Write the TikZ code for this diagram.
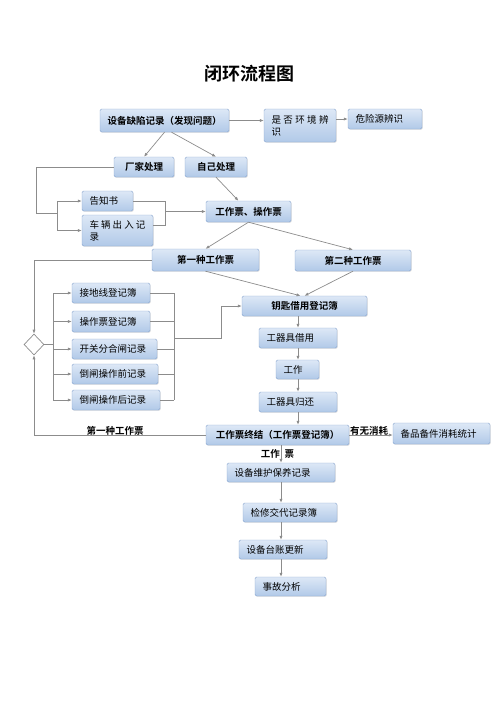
\documentclass[tikz,border=0pt]{standalone}
\usepackage{fontspec}
\setmainfont{Noto Sans CJK SC}[BoldFont={Noto Sans CJK SC Bold}]
\usetikzlibrary{calc,arrows.meta,shadows,shapes.geometric}

\definecolor{boxline}{HTML}{8AA6CF}
\definecolor{boxtop}{HTML}{DDE8F6}
\definecolor{boxbot}{HTML}{B1C9E8}
\definecolor{wire}{HTML}{8C8C8C}

\tikzset{
    box/.style={draw=boxline, top color=boxtop, bottom color=boxbot, rounded corners=1.5pt,
        inner xsep=7.5pt, inner ysep=1pt, align=left, font=\fontsize{9.5}{12}\selectfont,
        drop shadow={opacity=0.2, shadow xshift=0.8pt, shadow yshift=-0.8pt}},
    bbox/.style={box, align=center, font=\fontsize{9.5}{12}\selectfont\bfseries},
    line/.style={draw=wire, line width=0.7pt},
    arr/.style={line, -{Latex[length=4pt,width=3.2pt]}},
    lbl/.style={font=\fontsize{9.5}{12}\selectfont\bfseries, inner sep=0pt},
}

\begin{document}
\begin{tikzpicture}[x=1pt, y=-1pt]
\useasboundingbox (0,0) rectangle (500,707);
\node[font=\fontsize{18}{20}\selectfont\bfseries] (TITLE) at (249,74) {闭环流程图};

% top row
\node[bbox, text width=114, minimum height=23] (DEFECT) at (164.5,120.5) {设备缺陷记录（发现问题）};
\node[box, text width=57, minimum height=33] (ENV) at (300,125.5) {是\hfill{}否\hfill{}环\hfill{}境\hfill{}辨\\识};
\node[box, text width=59, minimum height=20] (HAZARD) at (385,119) {危险源辨识};
\node[bbox, text width=45, minimum height=20] (FACTORY) at (144,167) {厂家处理};
\node[bbox, text width=47, minimum height=20] (SELF) at (216,167) {自己处理};
\node[box, text width=36, minimum height=20] (NOTICE) at (107.5,201) {告知书};
\node[box, text width=56, minimum height=31] (VEHICLE) at (117.5,230.5) {车\hfill{}辆\hfill{}出\hfill{}入\hfill{}记\\录};
\node[bbox, text width=70, minimum height=21] (TICKET) at (248.5,211.5) {工作票、操作票};
\node[bbox, text width=92, minimum height=22] (FIRST) at (205.5,260) {第一种工作票};
\node[bbox, text width=101, minimum height=21] (SECOND) at (353,260.5) {第二种工作票};

% records
\node[bbox, text width=110, minimum height=20] (KEY) at (304.5,306) {钥匙借用登记簿};
\node[box, text width=63, minimum height=20] (GROUND) at (111,293) {接地线登记簿};
\node[box, text width=63, minimum height=21] (OPREG) at (111,321.5) {操作票登记簿};
\node[box, text width=70, minimum height=20] (SWITCH) at (114.5,349) {开关分合闸记录};
\node[box, text width=71, minimum height=20] (PRE) at (115,374) {倒闸操作前记录};
\node[box, text width=73, minimum height=20] (POST) at (116,400) {倒闸操作后记录};
\node[diamond, draw=wire, line width=0.7pt, fill=white, inner sep=0pt, minimum width=20, minimum height=21] (DIA) at (34,344.5) {};
\node[box, text width=63, minimum height=20] (BORROW) at (298,338) {工器具借用};
\node[box, text width=28, minimum height=19] (WORK) at (297.5,369.5) {工作};
\node[box, text width=63, minimum height=20] (RETURN) at (298,402) {工器具归还};
\node[bbox, text width=128, minimum height=20] (END) at (277.5,435) {工作票终结（工作票登记簿）};
\node[box, text width=82, minimum height=21] (SPARE) at (441.5,433.5) {备品备件消耗统计};

% bottom chain
\node[box, text width=93, minimum height=19] (MAINT) at (281,472.5) {设备维护保养记录};
\node[box, text width=79, minimum height=19] (REPAIR) at (290,512.5) {检修交代记录簿};
\node[box, text width=73, minimum height=19] (LEDGER) at (283,549.5) {设备台账更新};
\node[box, text width=56, minimum height=19] (ACCIDENT) at (290.5,586.5) {事故分析};

\node[lbl] (LFIRST) at (115,431) {第一种工作票};
\node[lbl] (LUSE) at (369,431) {有无消耗};
\node[lbl] (LTICK) at (277.5,454) {工作\hspace{5pt}票};

\draw[arr] (DEFECT.east) -- (DEFECT.east -| ENV.west);
\draw[arr] (ENV.east |- HAZARD.west) -- (HAZARD.west);
\draw[arr] (DEFECT.south) -- (FACTORY.north);
\draw[arr] ($ (DEFECT.south) + (7,0) $) -- (SELF.north);
\draw[arr] (SELF.south) -- ($ (TICKET.north) + (-10,0) $);
\coordinate (BR1) at (57,213);
\draw[line] (FACTORY.west) -- ++(-77,0) |- (BR1);
\draw[line] (BR1 |- NOTICE.west) -- (BR1 |- VEHICLE.west);
\draw[arr] (BR1 |- NOTICE.west) -- (NOTICE.west);
\draw[arr] (BR1 |- VEHICLE.west) -- (VEHICLE.west);
\coordinate (BR2) at (165,211.5);
\draw[line] (NOTICE.east) -| (BR2);
\draw[line] ($ (VEHICLE.east) + (0,-5) $) -| (BR2);
\draw[arr] (BR2) -- (TICKET.west);
\draw[arr] (TICKET.south) -- (FIRST.north);
\draw[arr] (TICKET.south) -- (SECOND.north);
\draw[arr] (FIRST.south) -- ($ (KEY.north) + (-4,0) $);
\draw[arr] (SECOND.south) -- (KEY.north);

\draw[arr] (FIRST.west) -| (DIA.north);
\draw[arr] (END.west) -| (DIA.south);
\coordinate (BR3) at (53,344.5);
\draw[line] (DIA.east) -- (BR3);
\draw[line] (BR3 |- GROUND.west) -- (BR3 |- POST.west);
\foreach \b in {GROUND,OPREG,SWITCH,PRE,POST}
    \draw[arr] (BR3 |- \b.west) -- (\b.west);
\coordinate (BR4) at (174,338);
\foreach \b in {GROUND,OPREG,SWITCH,PRE,POST}
    \draw[line] (\b.east) -- (BR4 |- \b.east);
\draw[line] (BR4 |- GROUND.east) -- (BR4 |- POST.east);
\draw[arr] (BR4) -- ++(47,0) |- (KEY.west);

\draw[arr] (BORROW.north |- KEY.south) -- (BORROW.north);
\draw[arr] (BORROW.south) -- (BORROW.south |- WORK.north);
\draw[arr] (BORROW.south |- WORK.south) -- (BORROW.south |- RETURN.north);
\draw[arr] (RETURN.south) -- (RETURN.south |- END.north);
\draw[arr] (END.east) -- (END.east -| SPARE.west);
\draw[arr] (MAINT.north |- END.south) -- (MAINT.north);
\draw[arr] (MAINT.south) -- (MAINT.south |- REPAIR.north);
\draw[arr] (MAINT.south |- REPAIR.south) -- (MAINT.south |- LEDGER.north);
\draw[arr] (MAINT.south |- LEDGER.south) -- (MAINT.south |- ACCIDENT.north);
\end{tikzpicture}
\end{document}
